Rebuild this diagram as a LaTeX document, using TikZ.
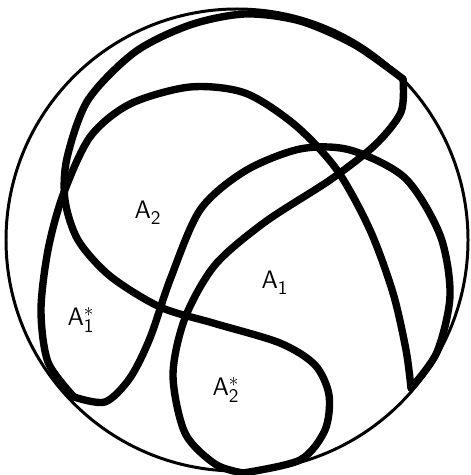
\documentclass[tikz,border=0pt]{standalone}
\usepackage{tikz}

\tikzset{
  rim/.style={line width=1.7pt},
  seam/.style={line width=4.2pt, line cap=round, line join=round},
  regionlabel/.style={font=\sffamily\fontsize{15}{17}\selectfont}
}
\newcommand{\areaname}[2]{$\mathsf{A}^{#2}_{\mathsf{#1}}$}

\begin{document}
\begin{tikzpicture}[x=0.02cm,y=-0.02cm]
  \useasboundingbox (0,0) rectangle (470,475);

  % outer circle
  \draw[rim] (237,240) circle (231);

  % first lens: long S-seam over the top and its diagonal partner
  \draw[seam] plot[smooth] coordinates {(243,473) (300,460) (325,430) (329,395)
    (315,365) (280,343) (213,323) (160,307) (110,276) (78,240) (65,200)
    (67,158) (88,100) (135,52) (190,25) (245,14) (300,21) (355,45) (403,79)};
  \draw[seam] plot[smooth] coordinates {(403,79) (401,112) (375,145) (330,180)
    (265,222) (215,265) (185,318) (173,375) (185,433) (215,464) (243,473)};

  % second lens: arch over A2 and arch over A1
  \draw[seam] plot[smooth] coordinates {(74,397) (48,362) (41,310) (48,250)
    (63,195) (90,137) (130,104) (190,87) (245,93) (295,125) (337,170)
    (370,230) (393,293) (406,350) (411,388)};
  \draw[seam] plot[smooth] coordinates {(74,397) (105,402) (130,378) (150,338)
    (170,280) (200,210) (245,171) (300,149) (350,150) (405,178) (440,235)
    (450,295) (437,352) (411,388)};

  % region names
  \node[regionlabel] (atwo) at (148,213) {\areaname{2}{}};
  \node[regionlabel] (aone) at (275,283) {\areaname{1}{}};
  \node[regionlabel] (aonestar) at (81,320) {\areaname{1}{*}};
  \node[regionlabel] (atwostar) at (226,390) {\areaname{2}{*}};
\end{tikzpicture}
\end{document}
